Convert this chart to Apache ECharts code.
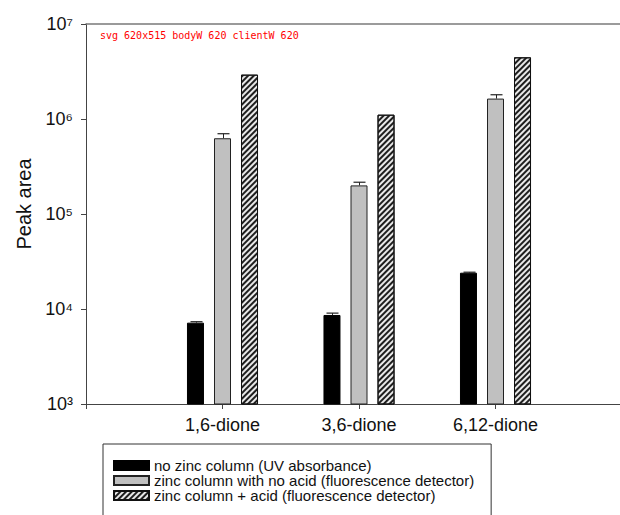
<!DOCTYPE html>
<html>
<head>
<meta charset="utf-8">
<script src="https://cdn.jsdelivr.net/npm/echarts@6/dist/echarts.min.js"></script>
<style>
  html, body { margin: 0; padding: 0; background: #fff; }
  #chart { width: 620px; height: 515px; }
  #dbg { position: absolute; left: 100px; top: 30px; width: 500px; font: 10px monospace; color: red; white-space: pre-wrap; word-break: break-all; }
</style>
</head>
<body>
<div id="chart"></div>
<div id="dbg"></div>
<script>
const groups = ['1,6-dione', '3,6-dione', '6,12-dione'];
const seriesNames = [
  'no zinc column (UV absorbance)',
  'zinc column with no acid (fluorescence detector)',
  'zinc column + acid (fluorescence detector)'
];
const noZinc      = [7180, 8650, 24100];
const noZincUpper = [7350, 9050, 24400];
const noAcid      = [627000, 200000, 1640000];
const noAcidUpper = [700000, 216000, 1800000];
const withAcid      = [2930000, 1110000, 4460000];
const withAcidUpper = [null, null, null];
const yTickExponents = [3, 4, 5, 6, 7];
const yTickLabels = ['10³', '10⁴', '10⁵', '10⁶', '10⁷'];
const axisCats = [''].concat(groups, ['']);
const pad = arr => ['-'].concat(arr, ['-']);
const BAR_W = 17, BAR_STEP = 27, CAP_W = 12;
const FONT = 'Liberation Sans, Arial, sans-serif';
function errData(vals, uppers) {
  const out = [];
  vals.forEach((v, i) => { if (uppers[i] != null) out.push([i + 1, v, uppers[i]]); });
  return out;
}
function errSeries(vals, uppers, k) {
  return {
    type: 'custom', silent: true, z: 5,
    data: errData(vals, uppers),
    encode: { x: 0, y: [1, 2] },
    renderItem: function (params, api) {
      const c = api.value(0);
      const p0 = api.coord([c, api.value(1)]);
      const p1 = api.coord([c, api.value(2)]);
      const x = Math.round(p0[0] + (k - 1) * BAR_STEP) + 0.5;
      return { type: 'group', children: [
        { type: 'line', shape: { x1: x, y1: p0[1], x2: x, y2: p1[1] }, style: { stroke: '#222', lineWidth: 1 } },
        { type: 'line', shape: { x1: x - CAP_W / 2, y1: p1[1], x2: x + CAP_W / 2, y2: p1[1] }, style: { stroke: '#222', lineWidth: 1.2 } }
      ]};
    }
  };
}
const chart = echarts.init(document.getElementById('chart'), null, { renderer: 'svg' });
chart.setOption({
  animation: false,
  backgroundColor: '#fff',
  grid: { left: 86, width: 546, top: 24, height: 380, outerBoundsMode: 'none', containLabel: false },
  legend: {
    orient: 'vertical', left: 103, top: 444, height: 80,
    data: seriesNames, itemWidth: 35, itemHeight: 9, itemGap: 0, itemTextGap: 5,
    padding: [14, 17, 30, 10], borderColor: '#333', borderWidth: 1,
    textStyle: { fontFamily: FONT, fontSize: 15, color: '#111', lineHeight: 12 }, icon: 'rect'
  },
  xAxis: [{
    type: 'category', data: axisCats, boundaryGap: false,
    axisLine: { lineStyle: { color: '#444', width: 1 } },
    axisTick: { show: true, length: 5, lineStyle: { color: '#444' } },
    axisLabel: { fontFamily: FONT, fontSize: 18, color: '#111', margin: 12, interval: 0 },
    splitLine: { show: false }
  }, {
    type: 'category', data: axisCats, boundaryGap: false, position: 'top',
    axisLine: { show: true, lineStyle: { color: '#7a7a7a', width: 1.5 } },
    axisTick: { show: false }, axisLabel: { show: false }, splitLine: { show: false }
  }],
  yAxis: {
    type: 'log', logBase: 10, min: 1000, max: 1e7,
    name: 'Peak area', nameLocation: 'middle', nameRotate: 90, nameGap: 52,
    nameTextStyle: { fontFamily: FONT, fontSize: 20, color: '#111', padding: [0, 0, 0, 20] },
    axisLine: { show: true, lineStyle: { color: '#444', width: 1 } },
    axisTick: { show: true, length: 5, lineStyle: { color: '#444' } },
    minorTick: { show: false }, splitLine: { show: false },
    axisLabel: { margin: 13, fontFamily: FONT, fontSize: 18, color: '#111',
      formatter: function (v) { const i = yTickExponents.indexOf(Math.round(Math.log10(v))); return i >= 0 ? yTickLabels[i] : ''; } }
  },
  series: [
    { name: seriesNames[0], type: 'bar', data: pad(noZinc), barWidth: BAR_W, barGap: '59%', itemStyle: { color: '#000', borderColor: '#000', borderWidth: 1 } },
    { name: seriesNames[1], type: 'bar', data: pad(noAcid), barWidth: BAR_W, barGap: '59%', itemStyle: { color: '#c0c0c0', borderColor: '#222', borderWidth: 1 } },
    { name: seriesNames[2], type: 'bar', data: pad(withAcid), barWidth: BAR_W, barGap: '59%',
      itemStyle: { color: '#e8e8e8', borderColor: '#111', borderWidth: 1,
        decal: { symbol: 'rect', symbolSize: 1, color: '#1e1e1e', dashArrayX: [1, 0], dashArrayY: [1.6, 1.4], rotation: -Math.PI / 4 } } },
    errSeries(noZinc, noZincUpper, 0),
    errSeries(noAcid, noAcidUpper, 1),
    errSeries(withAcid, withAcidUpper, 2)
  ]
});
const out = [];
document.querySelectorAll('#chart svg *').forEach(el => {
  try {
    const b = el.getBoundingClientRect();
    if (b.height > 250 && ((b.right > 603 && b.right < 614) || (b.left > 603 && b.left < 614)) && el.tagName !== 'g')
      out.push(el.tagName + ' ' + JSON.stringify([Math.round(b.left), Math.round(b.top), Math.round(b.width), Math.round(b.height)]) + ' ' + el.outerHTML.slice(0, 300));
  } catch (e) {}
});
const svg = document.querySelector('#chart svg');
out.push('svg ' + svg.getAttribute('width') + 'x' + svg.getAttribute('height') + ' bodyW ' + document.body.scrollWidth + ' clientW ' + document.documentElement.clientWidth);
document.getElementById('dbg').textContent = out.join('\n');
</script>
</body>
</html>
